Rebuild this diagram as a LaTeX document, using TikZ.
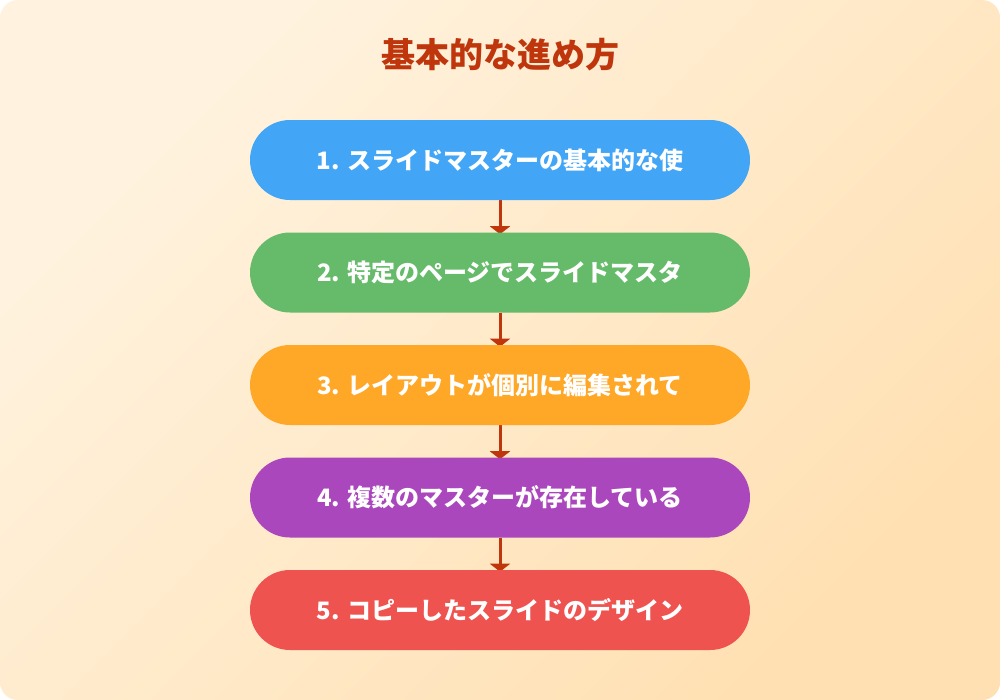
\documentclass[tikz,border=0pt]{standalone}
\usepackage{fontspec}
\newfontfamily\jp{Noto Sans CJK JP}
\usetikzlibrary{arrows.meta}
\definecolor{bgA}{HTML}{FFF3E0}
\definecolor{bgB}{HTML}{FFE0B2}
\definecolor{ttl}{HTML}{BF360C}
\definecolor{cA}{HTML}{42A5F5}
\definecolor{cB}{HTML}{66BB6A}
\definecolor{cC}{HTML}{FFA726}
\definecolor{cD}{HTML}{AB47BC}
\definecolor{cE}{HTML}{EF5350}
\tikzset{
  pill/.style={minimum width=375pt, minimum height=60pt, rounded corners=30pt, inner sep=0pt, text=white, font=\jp\bfseries\fontsize{18}{22}\selectfont},
  conn/.style={draw=ttl, line width=2.25pt, -{Triangle[width=15pt,length=6pt]}},
}
\begin{document}
\begin{tikzpicture}[x=0.75pt,y=-0.75pt]
\fill[white] (0,0) rectangle (1000,700);
\useasboundingbox (0,0) rectangle (1000,700);
\shade[rounded corners=13.5pt, top color=bgA, bottom color=bgB, shading angle=45] (0,0) rectangle (1000,700);
\node[text=ttl, font=\jp\bfseries\fontsize{25.5}{30}\selectfont] (title) at (500,55) {基本的な進め方};
\coordinate (p1) at (500,160);
\coordinate (p2) at (500,272.5);
\coordinate (p3) at (500,385);
\coordinate (p4) at (500,497.5);
\coordinate (p5) at (500,610);
\node[pill] (g1) at (p1) {\phantom{X}};
\node[pill] (g2) at (p2) {\phantom{X}};
\node[pill] (g3) at (p3) {\phantom{X}};
\node[pill] (g4) at (p4) {\phantom{X}};
\node[pill] (g5) at (p5) {\phantom{X}};
\draw[conn] (g1.south) -- ([yshift=-1.5pt]g2.north);
\draw[conn] (g2.south) -- ([yshift=-1.5pt]g3.north);
\draw[conn] (g3.south) -- ([yshift=-1.5pt]g4.north);
\draw[conn] (g4.south) -- ([yshift=-1.5pt]g5.north);
\node[pill, fill=cA] (b1) at (p1) {1. スライドマスターの基本的な使};
\node[pill, fill=cB] (b2) at (p2) {2. 特定のページでスライドマスタ};
\node[pill, fill=cC] (b3) at (p3) {3. レイアウトが個別に編集されて};
\node[pill, fill=cD] (b4) at (p4) {4. 複数のマスターが存在している};
\node[pill, fill=cE] (b5) at (p5) {5. コピーしたスライドのデザイン};
\end{tikzpicture}
\end{document}
